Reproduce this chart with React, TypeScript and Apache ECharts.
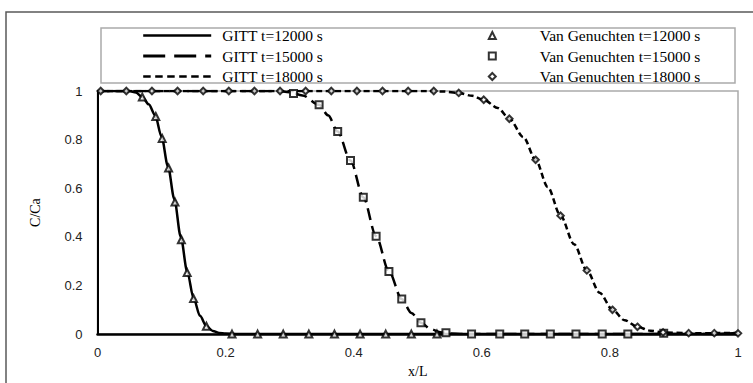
import React, { useEffect, useRef } from "react";
import * as echarts from "echarts";

// Van Genuchten markers
const vg12X = [0.070, 0.091, 0.101, 0.111, 0.121, 0.131, 0.140, 0.150, 0.170, 0.210, 0.250, 0.290, 0.330, 0.370, 0.410, 0.450, 0.490, 0.530];
const vg12Y = [0.975, 0.895, 0.805, 0.683, 0.543, 0.388, 0.253, 0.146, 0.032, 0, 0, 0, 0, 0, 0, 0, 0, 0];

const vg15X = [0.306, 0.346, 0.375, 0.395, 0.415, 0.435, 0.455, 0.475, 0.505, 0.544, 0.584, 0.628, 0.667, 0.707, 0.747, 0.788, 0.828, 0.884];
const vg15Y = [0.99, 0.943, 0.833, 0.714, 0.563, 0.403, 0.258, 0.144, 0.047, 0.006, 0, 0, 0, 0, 0, 0, 0, 0.003];

const vg18X = [0.005, 0.045, 0.085, 0.125, 0.165, 0.205, 0.245, 0.285, 0.325, 0.365, 0.405, 0.445, 0.485, 0.525, 0.564, 0.603, 0.643, 0.684, 0.723, 0.764, 0.804, 0.843, 0.883, 0.923, 0.963, 1.0];
const vg18Y = [1, 1, 1, 1, 1, 1, 1, 1, 1, 1, 1, 1, 1, 1, 0.992, 0.964, 0.886, 0.717, 0.487, 0.262, 0.10, 0.03, 0.007, 0.004, 0.004, 0.003];

// GITT curves
const g12X = [0, 0.05, 0.06, 0.07, 0.08, 0.09, 0.10, 0.11, 0.12, 0.13, 0.14, 0.15, 0.16, 0.17, 0.18, 0.19, 0.20, 0.22, 0.95, 1.0];
const g12Y = [1, 1, 0.994, 0.975, 0.945, 0.9, 0.812, 0.69, 0.555, 0.4, 0.258, 0.148, 0.075, 0.033, 0.013, 0.005, 0.002, 0, 0, 0.005];

const g15X = [0, 0.28, 0.30, 0.32, 0.346, 0.36, 0.375, 0.395, 0.415, 0.435, 0.455, 0.475, 0.49, 0.505, 0.52, 0.535, 0.55, 0.57, 1.0];
const g15Y = [1, 1, 0.995, 0.982, 0.943, 0.9, 0.833, 0.714, 0.563, 0.403, 0.258, 0.144, 0.087, 0.047, 0.021, 0.008, 0.002, 0, 0];

const g18X = [0, 0.52, 0.54, 0.564, 0.585, 0.603, 0.625, 0.643, 0.665, 0.684, 0.703, 0.723, 0.744, 0.764, 0.784, 0.804, 0.823, 0.843, 0.863, 0.883, 0.92, 0.96, 1.0];
const g18Y = [1, 1, 0.998, 0.992, 0.98, 0.964, 0.93, 0.886, 0.81, 0.717, 0.605, 0.487, 0.37, 0.262, 0.17, 0.10, 0.057, 0.03, 0.014, 0.007, 0.004, 0.004, 0.005];

const gittNames = ["GITT t=12000 s", "GITT t=15000 s", "GITT t=18000 s"];
const vgNames = ["Van Genuchten t=12000 s", "Van Genuchten t=15000 s", "Van Genuchten t=18000 s"];

const zip = (xs: number[], ys: number[]) => xs.map((x, i) => [x, ys[i]]);

const SERIF = "'Liberation Serif', 'Times New Roman', serif";
const SANS = "'Liberation Sans', Arial, sans-serif";

export default function App() {
  const ref = useRef<HTMLDivElement>(null);
  useEffect(() => {
    document.body.style.margin = "0";
    if (!ref.current) return;
    const chart = echarts.init(ref.current, null, { renderer: "svg" });
    const markerStyle = { color: "#fff", borderColor: "#000", borderWidth: 2 };
    chart.setOption({
      animation: false,
      backgroundColor: "#fff",
      grid: {
        left: 97.5,
        right: 15,
        top: 91,
        bottom: 44,
        show: true,
        borderColor: "#ababab",
        borderWidth: 1.5,
        backgroundColor: "transparent",
      },
      graphic: [
        {
          type: "rect",
          shape: { x: 6, y: 12, width: 800, height: 400 },
          style: { fill: "none", stroke: "#595959", lineWidth: 1.5 },
          silent: true,
        },
        {
          type: "rect",
          shape: { x: 101, y: 28, width: 634, height: 55 },
          style: { fill: "none", stroke: "#ababab", lineWidth: 1.5 },
          silent: true,
        },
      ],
      legend: [
        {
          orient: "vertical",
          left: 141.7,
          top: 27.5,
          padding: 0,
          itemWidth: 68,
          itemHeight: 14,
          itemGap: 4.5,
          data: [
            { name: gittNames[0], lineStyle: { type: "solid", width: 2.5 } },
            { name: gittNames[1], lineStyle: { type: [22, 9], width: 3 } },
            { name: gittNames[2], lineStyle: { type: [7.5, 4.5], width: 2.5 } },
          ],
          itemStyle: { opacity: 0 },
          textStyle: { fontFamily: SERIF, fontSize: 15.5, color: "#000", lineHeight: 14, padding: [0, 0, 0, 6] },
        },
        {
          orient: "vertical",
          left: 487.8,
          top: 27.5,
          padding: 0,
          itemWidth: 7,
          itemHeight: 7,
          itemGap: 4.5,
          data: vgNames,
          itemStyle: { borderWidth: 2 },
          textStyle: { fontFamily: SERIF, fontSize: 15.5, color: "#000", lineHeight: 14, padding: [0, 0, 0, 38.9] },
        },
      ],
      xAxis: {
        type: "value",
        min: 0,
        max: 1,
        interval: 0.2,
        name: "x/L",
        nameLocation: "middle",
        nameGap: 29,
        nameTextStyle: { fontFamily: SERIF, fontSize: 14, color: "#000" },
        axisLine: { show: true, lineStyle: { color: "#000", width: 2.5 } },
        axisTick: { show: false },
        splitLine: { show: false },
        axisLabel: { fontFamily: SANS, fontSize: 13, color: "#222", margin: 12 },
      },
      yAxis: {
        type: "value",
        min: 0,
        max: 1,
        interval: 0.2,
        name: "C/Ca",
        nameLocation: "middle",
        nameGap: 55,
        nameTextStyle: { fontFamily: SERIF, fontSize: 14, color: "#000" },
        axisLine: { show: true, lineStyle: { color: "#000", width: 2 } },
        axisTick: { show: false },
        splitLine: { show: false },
        axisLabel: { fontFamily: SANS, fontSize: 13, color: "#222", margin: 15 },
      },
      series: [
        {
          name: gittNames[0],
          type: "line",
          data: zip(g12X, g12Y),
          showSymbol: false,
          symbol: "none",
          smooth: 0.3,
          smoothMonotone: "x",
          lineStyle: { color: "#000", width: 2.5, type: "solid" },
          itemStyle: { color: "#000" },
          z: 2,
        },
        {
          name: gittNames[1],
          type: "line",
          data: zip(g15X, g15Y),
          showSymbol: false,
          symbol: "none",
          smooth: 0.3,
          smoothMonotone: "x",
          lineStyle: { color: "#000", width: 2.5, type: [12, 6] },
          itemStyle: { color: "#000" },
          z: 2,
        },
        {
          name: gittNames[2],
          type: "line",
          data: zip(g18X, g18Y),
          showSymbol: false,
          symbol: "none",
          smooth: 0.3,
          smoothMonotone: "x",
          lineStyle: { color: "#000", width: 2.5, type: [6, 3.5] },
          itemStyle: { color: "#000" },
          z: 2,
        },
        {
          name: vgNames[0],
          type: "scatter",
          data: zip(vg12X, vg12Y),
          symbol: "triangle",
          symbolSize: 7,
          itemStyle: markerStyle,
          z: 4,
        },
        {
          name: vgNames[1],
          type: "scatter",
          data: zip(vg15X, vg15Y),
          symbol: "rect",
          symbolSize: 7,
          itemStyle: markerStyle,
          z: 4,
        },
        {
          name: vgNames[2],
          type: "scatter",
          data: zip(vg18X, vg18Y),
          symbol: "diamond",
          symbolSize: 6.5,
          itemStyle: markerStyle,
          z: 5,
        },
      ],
    });
    return () => chart.dispose();
  }, []);
  return <div ref={ref} style={{ width: 753, height: 383 }} />;
}
